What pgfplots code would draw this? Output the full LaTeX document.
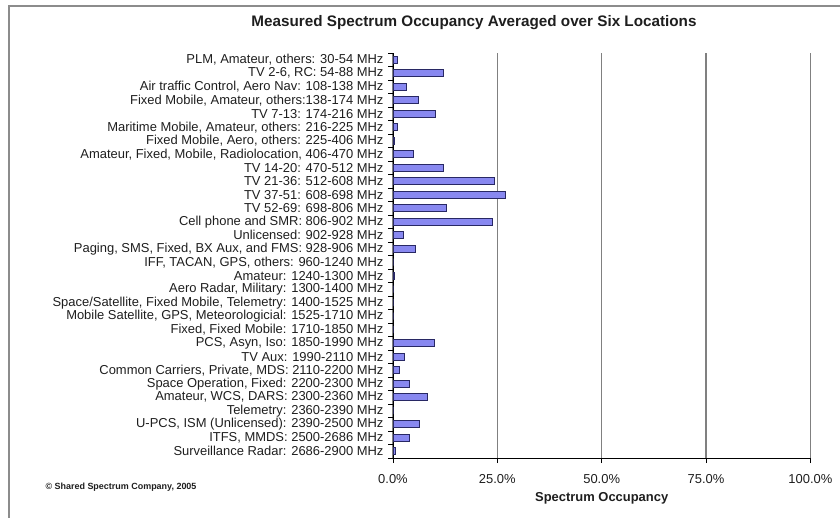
\documentclass[border=0pt]{standalone}
\usepackage{pgfplots}
\pgfplotsset{compat=1.18}
\usepackage{fontspec}
\setmainfont{Liberation Sans}
\definecolor{barfill}{RGB}{136,136,240}
\definecolor{baredge}{RGB}{40,40,100}
\definecolor{gridc}{RGB}{128,128,128}
\definecolor{framec}{RGB}{140,140,140}
\definecolor{txt}{RGB}{30,30,30}
\begin{document}
\begin{tikzpicture}
\path[use as bounding box] (0bp,0bp) rectangle (840bp,518bp);
\draw[framec, line width=2bp] (9bp,-5bp) -- (9bp,512bp) -- (845bp,512bp);
\node[font=\bfseries\fontsize{15.3}{17}\selectfont, text=txt] at (474bp,495bp) {Measured Spectrum Occupancy Averaged over Six Locations};
\node[anchor=west, font=\bfseries\fontsize{9}{11}\selectfont, text=txt] at (42bp,31bp) {\textcopyright{} Shared Spectrum Company, 2005};
\begin{axis}[
  at={(393bp,60bp)}, anchor=south west,
  width=417.4bp, height=405bp, scale only axis,
  xbar, bar shift=0pt, bar width=7bp,
  xmin=0, xmax=100, ymin=-0.5, ymax=29.5,
  axis x line*=bottom, axis y line*=left,
  axis line style={black, line width=0.8bp, -},
  xtick={0,25,50,75,100},
  xticklabels={0.0\%,25.0\%,50.0\%,75.0\%,100.0\%},
  tick align=outside,
  major tick length=5bp, minor tick length=5bp,
  xmajorgrids, major grid style={gridc, line width=1.2bp},
  ytick={0,...,29},
  minor ytick={-0.5,0.5,...,29.5},
  major y tick style={draw=none},
  minor y tick style={black, line width=0.8bp},
  major x tick style={black, line width=0.8bp},
  ticklabel style={font=\fontsize{13}{13}\selectfont, text=txt},
  yticklabel style={anchor=east, xshift=-1bp},
  xticklabel style={anchor=center, yshift=-16bp},
  xlabel={Spectrum Occupancy},
  xlabel style={font=\bfseries\fontsize{13}{15}\selectfont, text=txt, at={(axis description cs:0.5,0)}, anchor=center, yshift=-40bp},
  yticklabels={
    {Surveillance Radar: 2686-2900 MHz},
    {ITFS, MMDS: 2500-2686 MHz},
    {U-PCS, ISM (Unlicensed): 2390-2500 MHz},
    {Telemetry: 2360-2390 MHz},
    {Amateur, WCS, DARS: 2300-2360 MHz},
    {Space Operation, Fixed: 2200-2300 MHz},
    {Common Carriers, Private, MDS: 2110-2200 MHz},
    {TV Aux: 1990-2110 MHz},
    {PCS, Asyn, Iso: 1850-1990 MHz},
    {Fixed, Fixed Mobile: 1710-1850 MHz},
    {Mobile Satellite, GPS, Meteorologicial: 1525-1710 MHz},
    {Space/Satellite, Fixed Mobile, Telemetry: 1400-1525 MHz},
    {Aero Radar, Military: 1300-1400 MHz},
    {Amateur: 1240-1300 MHz},
    {IFF, TACAN, GPS, others: 960-1240 MHz},
    {Paging, SMS, Fixed, BX Aux, and FMS: 928-906 MHz},
    {Unlicensed: 902-928 MHz},
    {Cell phone and SMR: 806-902 MHz},
    {TV 52-69: 698-806 MHz},
    {TV 37-51: 608-698 MHz},
    {TV 21-36: 512-608 MHz},
    {TV 14-20: 470-512 MHz},
    {Amateur, Fixed, Mobile, Radiolocation, 406-470 MHz},
    {Fixed Mobile, Aero, others: 225-406 MHz},
    {Maritime Mobile, Amateur, others: 216-225 MHz},
    {TV 7-13: 174-216 MHz},
    {Fixed Mobile, Amateur, others:138-174 MHz},
    {Air traffic Control, Aero Nav: 108-138 MHz},
    {TV 2-6, RC: 54-88 MHz},
    {PLM, Amateur, others: 30-54 MHz}
  },
]
\addplot[fill=barfill, draw=baredge, line width=0.6bp] coordinates {
(0.5,0) (3.8,1) (6.4,2) (0,3) (8.2,4) (3.8,5) (1.4,6) (2.7,7) (9.8,8) (0,9)
(0,10) (0,11) (0,12) (0.2,13) (0,14) (5.3,15) (2.4,16) (23.7,17) (12.8,18) (27.0,19)
(24.3,20) (12.0,21) (4.8,22) (0.25,23) (1.0,24) (10.2,25) (6.0,26) (3.2,27) (12.0,28) (1.0,29)
};
\end{axis}
\end{tikzpicture}
\end{document}
